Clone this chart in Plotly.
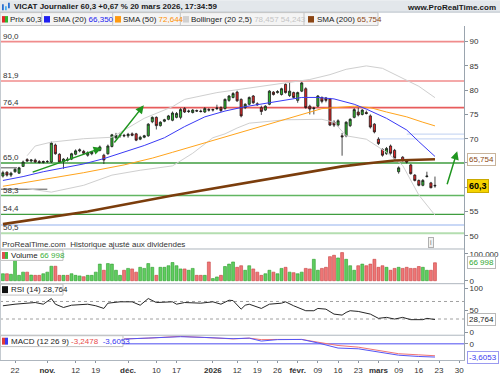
import plotly.graph_objects as go

# ---------------- data ----------------
idx = list(range(108))  # trading-day index, 0 = 17 oct. 2025 ... 107 = 20 mars 2026

open_ = [62.3, 63.1, 62.5, 63.2, 62.9, 64.3, 65.7, 65.4, 65.6, 65.3,
         65.1, 65.3, 65.2, 68.7, 66.8, 65.3, 65.8, 65.8, 66.8, 67.5,
         67.4, 66.6, 66.9, 67.3, 67.6, 66.6, 66.9, 68.4, 70.2, 70.6,
         70.7, 70.6, 71.0, 71.0, 69.9, 70.3, 70.6, 73.5, 74.4, 72.7,
         73.6, 74.0, 73.8, 74.4, 74.4, 76.2, 75.6, 75.4, 75.8, 75.7,
         75.5, 76.0, 75.9, 76.2, 76.4, 76.2, 77.9, 78.5, 79.6, 78.1,
         76.4, 77.1, 78.8, 77.2, 76.4, 75.9, 77.1, 79.6, 79.5, 79.1,
         81.2, 78.9, 79.5, 77.9, 79.8, 80.3, 76.7, 76.2, 76.7, 78.5,
         78.4, 78.2, 73.4, 72.8, 70.6, 70.6, 72.7, 74.4, 75.5, 75.0,
         75.4, 74.7, 73.0, 69.9, 67.8, 66.9, 68.5, 67.6, 63.2, 66.2,
         65.4, 64.6, 62.5, 61.4, 60.4, 62.2, 60.9, 60.4]
high = [63.4, 63.3, 63.2, 63.9, 64.2, 65.5, 66.0, 65.8, 65.9, 65.6,
        65.5, 65.6, 69.4, 69.0, 67.0, 66.0, 66.2, 67.1, 67.8, 68.0,
        67.7, 67.4, 67.5, 68.0, 68.6, 66.9, 68.8, 71.0, 71.2, 71.1,
        71.0, 71.2, 71.3, 71.2, 70.6, 70.8, 73.2, 74.6, 74.6, 73.6,
        74.1, 74.9, 75.6, 75.5, 76.3, 76.5, 76.0, 76.1, 76.0, 76.0,
        76.5, 76.3, 76.2, 77.0, 76.7, 78.3, 79.0, 79.6, 79.9, 78.3,
        77.3, 78.7, 79.0, 77.5, 76.8, 76.9, 80.0, 79.8, 80.0, 80.5,
        81.4, 81.6, 79.7, 79.7, 81.7, 80.6, 77.0, 76.6, 79.0, 78.7,
        78.6, 78.4, 73.8, 74.0, 71.2, 73.6, 74.2, 76.3, 76.4, 76.1,
        75.8, 75.0, 73.2, 70.3, 68.0, 68.3, 68.8, 67.9, 64.3, 66.4,
        65.6, 64.8, 62.7, 61.6, 61.7, 63.2, 61.1, 62.2]
low = [62.0, 62.2, 62.1, 63.0, 62.8, 64.2, 65.2, 65.1, 65.0, 64.9,
       64.9, 65.0, 65.0, 66.7, 65.0, 63.8, 65.3, 65.6, 66.6, 67.2,
       66.7, 66.3, 66.6, 67.1, 67.4, 64.8, 66.7, 68.2, 69.9, 70.2,
       70.3, 70.2, 70.5, 69.5, 69.7, 70.1, 70.4, 73.2, 71.9, 72.5,
       73.4, 73.8, 73.6, 74.2, 74.0, 75.3, 75.3, 75.2, 75.5, 75.4,
       75.3, 75.6, 75.6, 75.9, 75.5, 76.0, 77.6, 78.3, 77.6, 74.4,
       76.1, 76.9, 77.2, 76.8, 74.9, 75.7, 76.9, 78.9, 79.3, 78.9,
       79.3, 78.6, 78.3, 77.4, 79.6, 76.2, 75.0, 75.0, 76.5, 77.3,
       77.5, 72.6, 72.4, 72.5, 66.5, 70.3, 72.4, 74.2, 74.6, 74.8,
       75.0, 72.1, 71.1, 68.7, 66.3, 66.7, 66.7, 65.7, 62.8, 65.3,
       64.9, 62.6, 61.2, 60.2, 60.2, 62.0, 59.8, 59.9]
close = [63.0, 62.5, 62.9, 63.7, 64.0, 65.2, 65.4, 65.6, 65.2, 65.1,
         65.3, 65.3, 69.1, 66.9, 65.2, 65.8, 65.6, 66.9, 67.5, 67.7,
         67.0, 67.1, 67.3, 67.8, 68.3, 65.6, 68.5, 70.8, 70.7, 70.7,
         70.6, 70.9, 70.7, 69.7, 70.3, 70.6, 73.0, 74.4, 72.7, 73.4,
         73.9, 74.7, 75.3, 75.2, 76.0, 75.5, 75.7, 75.9, 75.7, 75.6,
         76.2, 75.9, 76.0, 76.3, 75.8, 78.1, 78.8, 79.3, 77.8, 74.7,
         77.1, 78.5, 77.4, 77.0, 75.6, 76.7, 79.8, 79.1, 79.7, 80.3,
         79.5, 79.8, 78.5, 79.5, 81.5, 76.4, 76.1, 76.3, 78.8, 77.7,
         77.9, 72.8, 72.8, 73.7, 70.4, 73.4, 74.0, 76.0, 74.9, 75.9,
         75.2, 72.4, 71.4, 69.0, 66.6, 68.0, 67.0, 66.0, 64.0, 65.5,
         65.2, 62.8, 61.4, 60.4, 61.4, 62.3, 59.9, 60.3]
volume_k = [26, 26, 24, 76, 20, 32, 32, 21, 20, 20,
            26, 32, 54, 54, 20, 20, 20, 26, 20, 18,
            15, 20, 20, 32, 62, 39, 64, 62, 39, 20,
            39, 46, 44, 32, 50, 46, 64, 50, 20, 50,
            50, 56, 68, 56, 44, 44, 39, 46, 20, 20,
            20, 70, 8, 14, 20, 53, 62, 70, 50, 56,
            39, 56, 44, 32, 20, 26, 39, 32, 26, 46,
            50, 32, 30, 26, 32, 46, 44, 80, 39, 46,
            50, 90, 95, 85, 105, 80, 56, 39, 56, 62,
            56, 62, 80, 50, 56, 50, 39, 46, 50, 46,
            50, 46, 46, 53, 50, 39, 39, 67]

sma20_i = [0, 5, 10, 15, 20, 25, 30, 35, 40, 45, 50, 55, 60, 65, 70, 74, 78, 82, 87, 90, 95, 100, 103, 107]
sma20_v = [61.4, 62.2, 63.2, 64.0, 64.8, 65.9, 67.3, 68.6, 70.2, 72.5, 74.5, 75.7, 76.6, 77.3, 78.0, 78.5,
           78.5, 78.2, 77.1, 76.1, 74.2, 71.8, 69.4, 66.35]
sma50_i = [0, 10, 20, 30, 37, 42, 53, 60, 70, 79, 87, 91, 95, 100, 104, 107]
sma50_v = [60.2, 61.6, 63.0, 64.6, 66.0, 67.2, 69.9, 71.6, 74.0, 76.2, 76.7, 76.4, 75.5, 74.5, 73.4, 72.644]
sma200_i = [0, 21, 42, 63, 79, 84, 90, 97, 107]
sma200_v = [52.4, 55.0, 58.3, 61.3, 63.7, 64.3, 64.9, 65.5, 65.754]
boll_up_i = [6, 8, 12, 20, 27, 35, 42, 45, 53, 61, 70, 76, 81, 85, 90, 94, 98, 103, 107]
boll_up_v = [66.5, 68.5, 69.3, 70.0, 70.3, 74.2, 76.6, 78.1, 79.5, 80.5, 81.5, 82.2, 83.2, 84.3, 85.0,
             84.5, 82.8, 80.8, 78.457]
boll_lo_i = [6, 12, 20, 27, 34, 42, 47, 52, 55, 58, 61, 70, 79, 82, 85, 90, 95, 99, 103, 107]
boll_lo_v = [59.7, 59.0, 60.4, 62.5, 63.5, 64.4, 67.0, 70.2, 71.0, 72.2, 73.2, 73.9, 74.0, 73.4, 70.6,
             69.9, 67.2, 64.5, 58.4, 54.243]

rsi_i = [0, 3, 8, 10, 12, 13, 15, 17, 21, 23, 25, 26, 29, 32, 34, 36, 38, 42, 43, 45, 49, 52, 54, 56, 57,
         59, 60, 61, 64, 66, 69, 70, 72, 75, 77, 78, 80, 82, 84, 85, 86, 88, 91, 93, 95, 97, 99, 101,
         104, 105, 107]
rsi_v = [60.2, 63.8, 67.6, 63.8, 76.7, 63.8, 56.3, 61.5, 63.8, 60.2, 54.1, 66.1, 69.2, 69.2, 61.5, 76.7,
         67.6, 69.2, 63.8, 67.6, 66.1, 69.2, 63.8, 72.9, 72.0, 52.5, 61.5, 63.8, 54.1, 63.8, 66.1, 69.2,
         60.2, 48.9, 48.9, 54.1, 52.5, 41.2, 38.9, 45.0, 48.9, 47.3, 41.2, 31.5, 33.7, 29.9, 33.7, 28.5,
         28.5, 31.5, 28.764]

macd_i = [30, 36, 44, 50, 57, 61, 64, 68, 74, 78, 83, 88, 93, 98, 103, 107]
macd_red = [1.35, 1.55, 2.05, 1.75, 1.35, 1.55, 1.15, 1.2, 1.2, 0.45, -0.45, -0.9, -1.8, -2.7, -3.0, -3.2478]
macd_blue = [1.3, 1.5, 1.95, 1.75, 1.4, 1.55, 0.75, 1.15, 1.2, 0.25, -1.15, -1.35, -2.25, -3.1, -3.45, -3.6053]

price_ticks = [50, 55, 60, 65, 70, 75, 80, 85, 90, 95]
price_tick_text = ["50", "55", "", "", "70", "75", "80", "85", "90", "95"]  # 60 / 65 hidden by value boxes

levels_red = [90.0, 81.9, 76.4]
levels_green = [65.0, 58.3, 54.4, 50.5]
level_labels = ["90,0", "81,9", "76,4", "65,0", "58,3", "54,4", "50,5"]
level_blue_full = 52.2
levels_blue_part = [70.95, 69.95]
levels_blue_start = [100, 93]
dark_segments = [(64.0, 3.5), (59.6, 11.0)]          # (level, end index)
arrows = [((7.0, 63.0), (24.5, 68.1)), ((27.3, 68.9), (34.9, 76.9)), ((109.9, 60.3), (112.5, 67.4))]

tick_idx = [3, 11, 18, 23, 31, 38, 43, 52, 58, 63, 68, 73, 78, 83, 88, 93, 98, 103, 108, 113]
tick_text = ["22", "<b>nov.</b>", "12", "19", "<b>déc.</b>", "10", "17", "<b>2026</b>", "12", "19", "26",
             "<b>févr.</b>", "09", "16", "23", "<b>mars</b>", "09", "16", "23", "30"]

# ---------------- layout helpers ----------------
W, H = 500, 375
ML, MR, MT, MB = 0, 36, 26, 12
PW, PH = W - ML - MR, H - MT - MB
FONT = "Liberation Sans, Arial, sans-serif"


def px(x):
    return (x - ML) / PW


def py(y):
    return (H - MB - y) / PH


fig = go.Figure()

# Bollinger + SMAs
fig.add_trace(go.Scatter(x=boll_up_i, y=boll_up_v, mode="lines", line=dict(color="#cfcfcf", width=1),
                         xaxis="x", yaxis="y", hoverinfo="skip"))
fig.add_trace(go.Scatter(x=boll_lo_i, y=boll_lo_v, mode="lines", line=dict(color="#cfcfcf", width=1),
                         xaxis="x", yaxis="y", hoverinfo="skip"))
fig.add_trace(go.Scatter(x=sma50_i, y=sma50_v, mode="lines", line=dict(color="#ffa41c", width=1),
                         xaxis="x", yaxis="y", hoverinfo="skip"))
fig.add_trace(go.Scatter(x=sma20_i, y=sma20_v, mode="lines", line=dict(color="#3a3af5", width=1),
                         xaxis="x", yaxis="y", hoverinfo="skip"))
fig.add_trace(go.Scatter(x=sma200_i, y=sma200_v, mode="lines", line=dict(color="#7b3d0c", width=2.6),
                         xaxis="x", yaxis="y", hoverinfo="skip"))

fig.add_trace(go.Candlestick(
    x=idx, open=open_, high=high, low=low, close=close, xaxis="x", yaxis="y",
    increasing=dict(fillcolor="#2fb52f", line=dict(color="#1c1c1c", width=0.8)),
    decreasing=dict(fillcolor="#e32626", line=dict(color="#1c1c1c", width=0.8)),
    whiskerwidth=0, hoverinfo="skip"))

vcol = ["#5fcd5f" if c >= o else "#ee7676" for o, c in zip(open_, close)]
vline = ["#2e9e2e" if c >= o else "#c84040" for o, c in zip(open_, close)]
fig.add_trace(go.Bar(x=idx, y=volume_k, width=0.72, marker=dict(color=vcol, line=dict(color=vline, width=0.6)),
                     xaxis="x", yaxis="y2", hoverinfo="skip"))

fig.add_trace(go.Scatter(x=rsi_i, y=rsi_v, mode="lines", line=dict(color="#262626", width=1),
                         xaxis="x", yaxis="y3", hoverinfo="skip"))

fig.add_trace(go.Scatter(x=macd_i, y=macd_red, mode="lines", line=dict(color="#f07474", width=1),
                         xaxis="x", yaxis="y4", hoverinfo="skip"))
fig.add_trace(go.Scatter(x=macd_i, y=macd_blue, mode="lines", line=dict(color="#5555f5", width=1),
                         xaxis="x", yaxis="y4", hoverinfo="skip"))

shapes = []
# price levels
for lv in levels_red:
    shapes.append(dict(type="line", xref="paper", yref="y", x0=0, x1=1, y0=lv, y1=lv, layer="below",
                       line=dict(color="#f08c8c" if lv != 76.4 else "#e85c5c", width=1.6)))
for lv in levels_green:
    if lv == 50.5:
        ln = dict(color="#b4deb0", width=2)
    elif lv == 58.3:
        ln = dict(color="#62b662", width=1.3)
    else:
        ln = dict(color="#3f9d3f", width=1.3)
    shapes.append(dict(type="line", xref="paper", yref="y", x0=0, x1=1, y0=lv, y1=lv, layer="below", line=ln))
shapes.append(dict(type="line", xref="paper", yref="y", x0=0, x1=1, y0=level_blue_full, y1=level_blue_full,
                   layer="below", line=dict(color="#c9d8f6", width=2)))
for lv, st in zip(levels_blue_part, levels_blue_start):
    shapes.append(dict(type="line", xref="x", yref="y", x0=st, x1=114.2, y0=lv, y1=lv, layer="below",
                       line=dict(color="#cbdaf4", width=1.2)))
for lv, end in dark_segments:
    shapes.append(dict(type="line", xref="x", yref="y", x0=-0.72, x1=end, y0=lv, y1=lv, layer="below",
                       line=dict(color="#555555", width=1)))
# RSI dashed lines, MACD zero line
for lv in (70, 30):
    shapes.append(dict(type="line", xref="paper", yref="y3", x0=0, x1=1, y0=lv, y1=lv, layer="below",
                       line=dict(color="#a0a0a0", width=1, dash="dot")))
shapes.append(dict(type="line", xref="paper", yref="y4", x0=0, x1=1, y0=0, y1=0, layer="below",
                   line=dict(color="#4d4df0", width=1)))
# panel separators
for yy in (251, 286, 338):
    shapes.append(dict(type="line", xref="paper", yref="paper", x0=0, x1=1, y0=py(yy), y1=py(yy),
                       line=dict(color="#aeb6be", width=1)))
shapes.append(dict(type="line", xref="paper", yref="paper", x0=px(0.5), x1=px(0.5), y0=py(363), y1=py(26),
                   line=dict(color="#c4cad0", width=1)))
# header & legend row
shapes.append(dict(type="rect", xref="paper", yref="paper", x0=px(0), x1=px(W), y0=py(12), y1=py(0),
                   fillcolor="#e3e7eb", line=dict(width=0)))
shapes.append(dict(type="line", xref="paper", yref="paper", x0=px(0), x1=px(W), y0=py(12), y1=py(12),
                   line=dict(color="#b8c0c8", width=1)))
shapes.append(dict(type="rect", xref="paper", yref="paper", x0=px(0), x1=px(378), y0=py(25.5), y1=py(12.5),
                   fillcolor="#f4f4f4", line=dict(color="#c4c4c4", width=1)))
for sx in (41.7, 112.7, 180.3, 304):
    shapes.append(dict(type="line", xref="paper", yref="paper", x0=px(sx), x1=px(sx), y0=py(25.5),
                       y1=py(12.5), line=dict(color="#c4c4c4", width=1)))
# header icon
for (x0, y0, x1, y1, c) in [(2, 4, 3.8, 10, "#2a6fd0"), (5, 6, 6.8, 10, "#48aef0"), (8, 2.5, 9.8, 8, "#2a6fd0")]:
    shapes.append(dict(type="rect", xref="paper", yref="paper", x0=px(x0), x1=px(x1), y0=py(y1), y1=py(y0),
                       fillcolor=c, line=dict(width=0)))
# legend squares top row
for (x0, x1, c) in [(2, 5, "#e02a2a"), (5, 8, "#2fb52f"), (44, 50, "#1f1ff0"), (115, 121, "#ff9a10"),
                    (183, 189, "#d0d0d0"), (308, 314, "#8b4513")]:
    shapes.append(dict(type="rect", xref="paper", yref="paper", x0=px(x0), x1=px(x1), y0=py(22.5), y1=py(16),
                       fillcolor=c, line=dict(width=0)))
# indicator legend boxes (above traces)
for (x1, y0, y1) in [(63, 252, 262.5), (63, 286.5, 297.5), (123, 338.5, 349.5)]:
    shapes.append(dict(type="rect", xref="paper", yref="paper", x0=px(0.5), x1=px(x1), y0=py(y1), y1=py(y0),
                       fillcolor="#ffffff", line=dict(color="#c0c0c0", width=1), layer="above"))
for (x0, x1, y0, y1, c) in [(2, 5, 254, 261, "#e05050"), (5, 8, 254, 261, "#40b840"),
                            (2, 8, 288.5, 295.5, "#111111"),
                            (2, 5, 340.5, 347.5, "#e03a3a"), (5, 8, 340.5, 347.5, "#3a3af0")]:
    shapes.append(dict(type="rect", xref="paper", yref="paper", x0=px(x0), x1=px(x1), y0=py(y1), y1=py(y0),
                       fillcolor=c, line=dict(width=0), layer="above"))

ann = []


def text(xp, yp, s, size=8, color="#222", anchor="left", bold=False):
    if bold:
        s = "<b>" + s + "</b>"
    ann.append(dict(xref="paper", yref="paper", x=px(xp), y=py(yp), text=s, showarrow=False,
                    xanchor=anchor, yanchor="middle", font=dict(family=FONT, size=size, color=color),
                    borderpad=0))


text(13, 6, "VICAT Journalier 60,3 +0,67 % 20 mars 2026, 17:34:59", bold=True, color="#1a1a1a")
text(497, 7, "www.ProRealTime.com", bold=True, anchor="right", color="#1a1a1a")
text(9, 19.5, "Prix 60,3")
text(52, 19.5, "SMA (20) <span style='color:#2020f0'>66,350</span>")
text(122, 19.5, "SMA (50) <span style='color:#ff9000'>72,644</span>")
text(190, 19.5, "Bollinger (20 2,5) <span style='color:#c4c4c4'>78,457 54,243</span>")
text(316, 19.5, "SMA (200) <span style='color:#8b4513'>65,754</span>")
text(1, 246.5, "ProRealTime.com  Historique ajusté aux dividendes", color="#333")
text(10, 257.5, "Volume <span style='color:#3cb03c'>66 998</span>")
text(10, 292, "RSI (14) 28,764")
text(10, 344, "MACD (12 26 9) <span style='color:#e84c4c'>-3,2478</span>  "
              "<span style='color:#3a3af0'>-3,6053</span>")

for lv, lab in zip(levels_red + levels_green, level_labels):
    ann.append(dict(xref="paper", yref="y", x=px(1.5), y=lv, text=lab, showarrow=False, xanchor="left",
                    yanchor="bottom", font=dict(family=FONT, size=8, color="#333"), borderpad=0))

for (tail, head) in arrows:
    ann.append(dict(xref="x", yref="y", axref="x", ayref="y", x=head[0], y=head[1], ax=tail[0], ay=tail[1],
                    text="", showarrow=True, arrowhead=2, arrowsize=1.1, arrowwidth=1.5, arrowcolor="#1f961f"))


def vlabel(yref, val, s, color, bg="#ffffff", border="#b8b8b8", bold=False, size=8):
    ann.append(dict(xref="paper", yref=yref, x=1, y=val, xanchor="left", xshift=3, yanchor="middle",
                    text=("<b>%s</b>" % s) if bold else s, showarrow=False, bgcolor=bg, bordercolor=border,
                    borderwidth=1, borderpad=1, font=dict(family=FONT, size=size, color=color)))


vlabel("y", sma200_v[-1], "65,754", "#8b4a14", border="#c8b49c")
vlabel("y", close[-1], "60,3", "#000000", bg="#f5d300", border="#c9a900", bold=True, size=9)
vlabel("y2", volume_k[-1], "66 998", "#32a832")
vlabel("y3", rsi_v[-1], "28,764", "#222222")
vlabel("y4", macd_blue[-1], "-3,6053", "#3a3af0", border="#9a9af0")

ann.append(dict(xref="paper", yref="paper", x=px(434), y=py(244), text="i", showarrow=False,
                font=dict(family=FONT, size=7, color="#777"), bgcolor="#f2f2f2", bordercolor="#b0b0b0",
                borderwidth=1, borderpad=1))

axis_common = dict(side="right", anchor="x", showgrid=False, zeroline=False, ticks="outside", ticklen=3,
                   tickcolor="#8a949e", tickfont=dict(family=FONT, size=8, color="#333"), showline=True,
                   linecolor="#9aa4ae", linewidth=1, fixedrange=True)

fig.update_layout(
    width=W, height=H, margin=dict(l=ML, r=MR, t=MT, b=MB, pad=0),
    paper_bgcolor="#ffffff", plot_bgcolor="#ffffff", showlegend=False,
    xaxis=dict(domain=[0, 1], range=[-0.72, 114.19], anchor="y4", tickmode="array", tickvals=tick_idx,
               ticktext=tick_text, ticks="outside", ticklen=2, tickcolor="#8a949e",
               tickfont=dict(family=FONT, size=8, color="#333"), showgrid=False, zeroline=False,
               showline=True, linecolor="#aeb6be", rangeslider=dict(visible=False), fixedrange=True),
    yaxis=dict(domain=[py(251), 1], range=[47.28, 93.22], tickmode="array", tickvals=price_ticks,
               ticktext=price_tick_text, **axis_common),
    yaxis2=dict(domain=[py(286), py(251)], range=[-11.1, 118.5], tickvals=[0, 100],
                ticktext=["0", "100 000"], **axis_common),
    yaxis3=dict(domain=[py(338), py(286)], range=[-7.0, 110.6], tickvals=[0, 50, 100], **axis_common),
    yaxis4=dict(domain=[0, py(338)], range=[-4.41, 2.35], tickvals=[0], **axis_common),
    shapes=shapes, annotations=ann, boxgap=0.25,
)

fig.write_html("out.html")
